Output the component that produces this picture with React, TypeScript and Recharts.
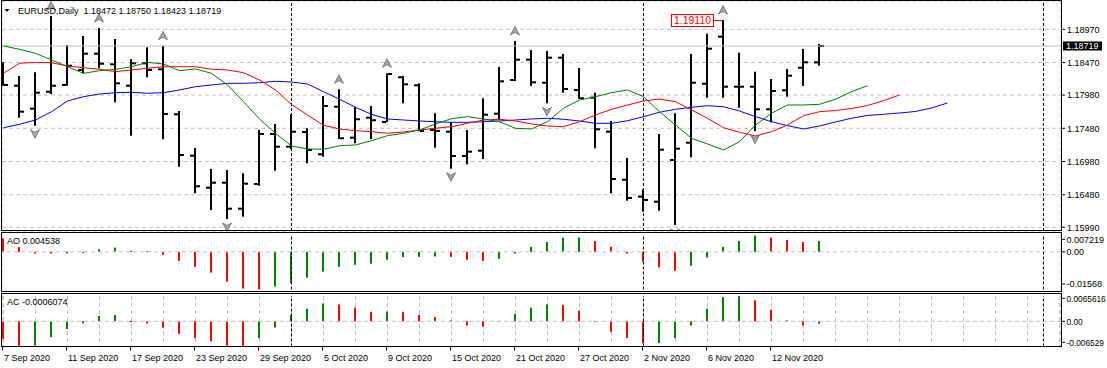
import {
  Bar,
  CartesianGrid,
  ComposedChart,
  Line,
  ReferenceDot,
  ReferenceLine,
  Scatter,
  XAxis,
  YAxis,
} from "recharts";

const FONT = "'Liberation Sans', Arial, sans-serif";
const GRID = "#c0c0c0";
const UP = "#008000";
const DOWN = "#ff0000";

const SYMBOL = "EURUSD,Daily";
const LAST_OHLC = "1.18472 1.18750 1.18423 1.18719";
const LAST_PRICE = 1.18719;
const HIGH_MARK = 1.1911;
const HIGH_MARK_BAR = 45;

const DATE_LABELS = [
  "7 Sep 2020", "11 Sep 2020", "17 Sep 2020", "23 Sep 2020", "29 Sep 2020",
  "5 Oct 2020", "9 Oct 2020", "15 Oct 2020", "21 Oct 2020", "27 Oct 2020",
  "2 Nov 2020", "6 Nov 2020", "12 Nov 2020",
];
const DATE_LABEL_BARS = [0, 4, 8, 12, 16, 20, 24, 28, 32, 36, 40, 44, 48];
const SEPARATORS = [18, 40, 65];
const PRICE_TICKS = [1.1599, 1.1648, 1.1698, 1.1748, 1.1798, 1.1847, 1.1897];
const AO_TICKS = [0.007219, 0, -0.01568];
const AC_TICKS = [0.0065616, 0, -0.006529];

const OPEN = [
  1.18147, 1.18121, 1.17775, 1.18031, 1.18132, 1.18358, 1.18603, 1.18443, 1.18121, 1.18458,
  1.18368, 1.17691, 1.17068, 1.16586, 1.16661, 1.1627, 1.16642, 1.17394, 1.17203, 1.17424,
  1.17089, 1.17805, 1.17339, 1.1764, 1.17575, 1.18248, 1.18127, 1.17455, 1.17429, 1.17063,
  1.17143, 1.177, 1.18207, 1.18513, 1.18166, 1.18543, 1.18057, 1.17941, 1.17429, 1.16706,
  1.16451, 1.16375, 1.17003, 1.17263, 1.18151, 1.18859, 1.18106, 1.18106, 1.17766, 1.18052,
  1.18392, 1.18472,
];
const HIGH = [
  1.18473, 1.18267, 1.18323, 1.1917, 1.18734, 1.18869, 1.1899, 1.18824, 1.18519, 1.18699,
  1.18723, 1.1774, 1.17184, 1.16868, 1.16852, 1.16803, 1.17455, 1.17545, 1.17691, 1.1748,
  1.17966, 1.18067, 1.17805, 1.17816, 1.18308, 1.18267, 1.18157, 1.17706, 1.17575, 1.17455,
  1.17932, 1.18403, 1.18794, 1.18659, 1.18644, 1.18598, 1.18388, 1.18016, 1.1759, 1.17033,
  1.16562, 1.17394, 1.17706, 1.18598, 1.18904, 1.1911, 1.18618, 1.18332, 1.18222, 1.18373,
  1.18674, 1.1875,
];
const LOW = [
  1.18121, 1.1764, 1.17519, 1.17996, 1.18121, 1.18308, 1.18383, 1.17871, 1.17369, 1.18248,
  1.17315, 1.16902, 1.16502, 1.1625, 1.16115, 1.1615, 1.16616, 1.16842, 1.17169, 1.16953,
  1.17053, 1.17319, 1.17254, 1.17319, 1.17575, 1.17856, 1.17435, 1.17188, 1.16872, 1.16938,
  1.17018, 1.17605, 1.18192, 1.18117, 1.17856, 1.18016, 1.17921, 1.17179, 1.16502, 1.1639,
  1.16225, 1.1624, 1.16025, 1.17044, 1.17941, 1.17941, 1.1779, 1.17439, 1.1757, 1.17956,
  1.18117, 1.18423,
];
const CLOSE = [
  1.18132, 1.1773, 1.18016, 1.18121, 1.18422, 1.18603, 1.18452, 1.18157, 1.18458, 1.18358,
  1.17695, 1.17078, 1.16607, 1.16661, 1.1627, 1.16646, 1.17394, 1.17203, 1.17429, 1.17153,
  1.17816, 1.1733, 1.17616, 1.17601, 1.18297, 1.18142, 1.17439, 1.17439, 1.17063, 1.17128,
  1.17685, 1.18187, 1.18513, 1.18172, 1.18543, 1.18072, 1.17932, 1.17465, 1.16717, 1.16431,
  1.16401, 1.17158, 1.17173, 1.18166, 1.18678, 1.18106, 1.18106, 1.17766, 1.18042, 1.18272,
  1.18473, 1.18719,
];

// alligator lines, already shifted forward (lips 3, teeth 5, jaw 8 bars)
const LIPS = [
  1.18719, 1.18669, 1.18609, 1.18508, 1.18407, 1.18308, 1.18347, 1.18368, 1.18407, 1.18473,
  1.18448, 1.18347, 1.18373, 1.18308, 1.18132, 1.1788, 1.1762, 1.17405, 1.17214, 1.17169,
  1.17164, 1.17218, 1.17229, 1.17293, 1.17369, 1.17405, 1.17455, 1.17545, 1.17625, 1.17655,
  1.1762, 1.17579, 1.1748, 1.1747, 1.17579, 1.17781, 1.17906, 1.17956, 1.18016, 1.18057,
  1.17956, 1.1773, 1.1753, 1.1733, 1.17244, 1.17153, 1.17278, 1.1753, 1.17706, 1.17831,
  1.17831, 1.17841, 1.17917, 1.18031, 1.18121,
];
const TEETH = [
  1.18308, 1.18458, 1.18473, 1.18467, 1.18418, 1.18392, 1.18368, 1.18332, 1.18358, 1.18383,
  1.18407, 1.18407, 1.18407, 1.18368, 1.18358, 1.18317, 1.18207, 1.18057, 1.17838, 1.1768,
  1.17525, 1.1747, 1.17444, 1.17429, 1.17405, 1.17424, 1.17455, 1.1748, 1.17504, 1.17555,
  1.17605, 1.17616, 1.1759, 1.17545, 1.17515, 1.17504, 1.17579, 1.1768, 1.17766, 1.17831,
  1.17891, 1.17921, 1.1788, 1.17756, 1.17631, 1.17489, 1.1742, 1.17364, 1.17429, 1.1753,
  1.1767, 1.1773, 1.17748, 1.17778, 1.17823, 1.17895, 1.17981,
];
const JAW = [
  1.17489, 1.1754, 1.17605, 1.1773, 1.17891, 1.17956, 1.17996, 1.18016, 1.18022, 1.18007,
  1.18016, 1.18057, 1.18106, 1.18132, 1.18157, 1.18157, 1.18166, 1.18187, 1.18177, 1.18147,
  1.18031, 1.17917, 1.17796, 1.17691, 1.1762, 1.17605, 1.1759, 1.17579, 1.1757, 1.1757,
  1.17579, 1.1759, 1.17605, 1.1762, 1.17631, 1.17616, 1.1759, 1.17555, 1.17555, 1.17594,
  1.17655, 1.17721, 1.17766, 1.17796, 1.1782, 1.17805, 1.1774, 1.17655, 1.17579, 1.17519,
  1.1747, 1.17515, 1.17575, 1.17631, 1.17673, 1.17691, 1.1771, 1.17733, 1.17786, 1.17861,
];

const AO = [
  0.00558, 0.00194, -0.0007, -0.00074, -0.00062, -0.00029, 0.00112, 0.00178, 0.00041, 0.00029,
  -0.00124, -0.00372, -0.0062, -0.00867, -0.01239, -0.01528, -0.01568, -0.01446, -0.0128, -0.01074,
  -0.00826, -0.0062, -0.00537, -0.00496, -0.0033, -0.00219, -0.00207, -0.00194, -0.00207, -0.0033,
  -0.00372, -0.00289, -0.0007, 0.00207, 0.00413, 0.00591, 0.00599, 0.00454, 0.00207, -0.0007,
  -0.00413, -0.00648, -0.00785, -0.00578, -0.00235, 0.00207, 0.00454, 0.0068, 0.00591, 0.00496,
  0.00413, 0.004538,
];
const AC = [
  -0.00454, -0.006529, -0.00626, -0.00408, -0.00199, -0.00054, 0.00136, 0.00163, 0.00008, -0.00054,
  -0.00163, -0.00326, -0.00435, -0.00517, -0.00626, -0.0065, -0.00435, -0.00163, 0.00163, 0.00326,
  0.00462, 0.00435, 0.00354, 0.00245, 0.00253, 0.00237, 0.00163, 0.00109, 0.00027, -0.00109,
  -0.00136, 0.00008, 0.0019, 0.00354, 0.00435, 0.00427, 0.00272, 0.00008, -0.00272, -0.00435,
  -0.00571, -0.00563, -0.00435, -0.00109, 0.00326, 0.00626, 0.0065616, 0.00544, 0.00299, 0.00027,
  -0.00109, -0.0006074,
];

const FRACTAL_UP = [3, 6, 10, 21, 24, 32, 45];
const FRACTAL_DOWN = [2, 14, 28, 34, 42, 47];

// one bar every 16px, first bar 3px in from the left edge
const X_DOMAIN: [number, number] = [-0.09375, 66.09375];
const GRID_TICKS = Array.from({ length: 34 }, (_, k) => k * 2);

const rows = JAW.map((jaw, i) => ({
  i,
  o: OPEN[i],
  h: HIGH[i],
  l: LOW[i],
  c: CLOSE[i],
  lips: LIPS[i],
  teeth: TEETH[i],
  jaw,
  ao: AO[i],
  ac: AC[i],
  aoColor: i > 0 && AO[i] > AO[i - 1] ? UP : DOWN,
  acColor: i > 0 && AC[i] > AC[i - 1] ? UP : DOWN,
}));

const fracUp = FRACTAL_UP.map((i) => ({ i, v: HIGH[i] }));
const fracDown = FRACTAL_DOWN.map((i) => ({ i, v: LOW[i] }));

function OhlcBar(props: any) {
  const { x, y, width, height, payload } = props;
  if (!payload || payload.h == null) return <g />;
  const cx = Math.floor(x + width / 2);
  const span = payload.h - payload.l;
  const at = (v: number) => (span > 0 ? y + ((payload.h - v) / span) * height : y);
  const yo = at(payload.o);
  const yc = at(payload.c);
  return (
    <g fill="#000">
      <rect x={cx - 1} y={y} width={2} height={Math.max(height, 1)} />
      <rect x={cx - 5} y={yo - 1} width={4} height={2} />
      <rect x={cx + 1} y={yc - 1} width={4} height={2} />
    </g>
  );
}

function Histo(colorKey: string) {
  return (props: any) => {
    const { x, y, width, height, payload } = props;
    if (!payload || height == null || isNaN(height)) return <g />;
    const cx = Math.floor(x + width / 2);
    const top = height < 0 ? y + height : y;
    return (
      <rect
        x={cx - 1}
        y={top}
        width={2}
        height={Math.max(Math.abs(height), 1)}
        fill={payload[colorKey]}
      />
    );
  };
}

function FracUp({ cx, cy }: any) {
  return (
    <polygon
      transform={`translate(${Math.floor(cx)},${cy - 10})`}
      points="0,-4.5 4.5,4 0,1.5 -4.5,4"
      fill="#a4a4a4"
      stroke="#6a6a6a"
      strokeWidth={0.8}
    />
  );
}

function FracDown({ cx, cy }: any) {
  return (
    <polygon
      transform={`translate(${Math.floor(cx)},${cy + 8})`}
      points="0,4.5 4.5,-4 0,-1.5 -4.5,-4"
      fill="#a4a4a4"
      stroke="#6a6a6a"
      strokeWidth={0.8}
    />
  );
}

function HighMark({ cx, cy }: any) {
  const bx = Math.floor(cx) - 52;
  return (
    <g>
      <line x1={bx + 42} x2={Math.floor(cx)} y1={cy + 0.5} y2={cy + 0.5} stroke={DOWN} />
      <rect x={bx + 0.5} y={cy - 5.5} width={42} height={12} fill="#fff" stroke={DOWN} />
      <text x={bx + 21.5} y={cy + 4.3} textAnchor="middle" fontSize={10.5} fontFamily={FONT} fill={DOWN}>
        {HIGH_MARK.toFixed(5)}
      </text>
    </g>
  );
}

function PriceTag(props: any) {
  const vb = props.viewBox;
  if (!vb) return null;
  const x = vb.x + vb.width + 2;
  return (
    <g>
      <rect x={x} y={vb.y - 4.5} width={39} height={9} fill="#000" />
      <text x={x + 3} y={vb.y + 3.3} fill="#fff" fontSize={9} fontFamily={FONT}>
        {LAST_PRICE.toFixed(5)}
      </text>
    </g>
  );
}

function PriceTick({ x, y, payload }: any) {
  return (
    <g>
      <line x1={x + 1} x2={x + 4} y1={y} y2={y} stroke="#000" />
      <text x={x + 6} y={y + 3.3} fontSize={9} fontFamily={FONT} fill="#000">
        {payload.value.toFixed(5)}
      </text>
    </g>
  );
}

function sideTick(text: (v: number) => string, topShift: number, bottomShift: number, size: number) {
  return ({ x, y, payload }: any) => {
    const v = payload.value;
    const yy = v > 0 ? y + topShift : v < 0 ? y + bottomShift : y;
    return (
      <g>
        <line x1={x + 1} x2={x + 4} y1={yy} y2={yy} stroke="#000" />
        <text x={x + 5.5} y={yy + 3.3} fontSize={size} fontFamily={FONT} fill="#000">
          {text(v)}
        </text>
      </g>
    );
  };
}

const AoTick = sideTick((v) => (v === 0 ? "0.00" : String(v)), 4.8, -5.5, 9);
const AcTick = sideTick((v) => (v === 0 ? "0.00" : String(v)), 2.3, -4.2, 8.3);

function DateTick({ x, y, payload }: any) {
  const k = DATE_LABEL_BARS.indexOf(payload.value);
  if (k < 0) return <g />;
  const tx = Math.floor(x) - 0.5;
  return (
    <g>
      <line x1={tx} x2={tx} y1={y} y2={y + 4} stroke="#000" />
      <text x={tx + 1.5} y={y + 14.5} fontSize={9} fontFamily={FONT} fill="#000">
        {DATE_LABELS[k]}
      </text>
    </g>
  );
}

const frame = (top: number, height: number): React.CSSProperties => ({
  position: "absolute",
  left: 1,
  top,
  width: 1061,
  height,
  border: "1px solid #000",
  boxSizing: "border-box",
  pointerEvents: "none",
});

const hiddenX = (
  <XAxis
    type="number"
    dataKey="i"
    domain={X_DOMAIN}
    ticks={GRID_TICKS}
    allowDataOverflow
    height={0}
    tick={false}
    axisLine={false}
    tickLine={false}
  />
);

export default function App() {
  const sepLines = SEPARATORS.map((s) => (
    <ReferenceLine key={s} x={s} stroke="#000" strokeDasharray="3 2" />
  ));
  return (
    <div
      style={{
        position: "absolute",
        left: 0,
        top: 0,
        width: 1107,
        height: 368,
        background: "#fff",
        overflow: "hidden",
        fontFamily: FONT,
      }}
    >
      <div style={{ position: "absolute", left: 0, top: 0 }}>
        <ComposedChart width={1107} height={236} data={rows} margin={{ top: 1, right: 0, bottom: 5, left: 2 }}>
          <CartesianGrid stroke={GRID} strokeDasharray="4 3" />
          {hiddenX}
          <YAxis
            orientation="right"
            width={46}
            domain={[1.15934, 1.19396]}
            ticks={PRICE_TICKS}
            allowDataOverflow
            interval={0}
            axisLine={false}
            tickLine={false}
            tickSize={0}
            tickMargin={0}
            tick={PriceTick}
          />
          {sepLines}
          <ReferenceLine y={LAST_PRICE} stroke={GRID} label={PriceTag} />
          <Line dataKey="jaw" stroke="#0000ff" strokeWidth={1} dot={false} type="linear" isAnimationActive={false} />
          <Line dataKey="teeth" stroke="#ff0000" strokeWidth={1} dot={false} type="linear" isAnimationActive={false} />
          <Line dataKey="lips" stroke="#008000" strokeWidth={1} dot={false} type="linear" isAnimationActive={false} />
          <Bar
            dataKey={(d: any) => (d.h == null ? null : [d.l, d.h])}
            barSize={10}
            shape={OhlcBar}
            isAnimationActive={false}
          />
          <Scatter data={fracUp} dataKey="v" shape={FracUp} isAnimationActive={false} />
          <Scatter data={fracDown} dataKey="v" shape={FracDown} isAnimationActive={false} />
          <ReferenceDot x={HIGH_MARK_BAR} y={HIGH_MARK} r={0} shape={HighMark} />
        </ComposedChart>
      </div>

      <div style={{ position: "absolute", left: 0, top: 232 }}>
        <ComposedChart width={1107} height={59} data={rows} margin={{ top: 2.5, right: 0, bottom: 1.5, left: 2 }}>
          <CartesianGrid stroke={GRID} strokeDasharray="4 3" horizontal={false} />
          {hiddenX}
          <YAxis
            orientation="right"
            width={46}
            domain={[AO_TICKS[2], AO_TICKS[0]]}
            ticks={AO_TICKS}
            allowDataOverflow
            interval={0}
            axisLine={false}
            tickLine={false}
            tickSize={0}
            tickMargin={0}
            tick={AoTick}
          />
          <ReferenceLine y={0} stroke={GRID} strokeDasharray="4 3" />
          {sepLines}
          <Bar dataKey="ao" barSize={2} shape={Histo("aoColor")} isAnimationActive={false} />
        </ComposedChart>
      </div>

      <div style={{ position: "absolute", left: 0, top: 293 }}>
        <ComposedChart width={1107} height={75} data={rows} margin={{ top: 3, right: 0, bottom: 0, left: 2 }}>
          <CartesianGrid stroke={GRID} strokeDasharray="4 3" horizontal={false} />
          <XAxis
            type="number"
            dataKey="i"
            domain={X_DOMAIN}
            ticks={GRID_TICKS}
            allowDataOverflow
            interval={0}
            height={21.5}
            axisLine={false}
            tickLine={false}
            tickSize={0}
            tickMargin={0}
            tick={DateTick}
          />
          <YAxis
            orientation="right"
            width={46}
            domain={[AC_TICKS[2], AC_TICKS[0]]}
            ticks={AC_TICKS}
            allowDataOverflow
            interval={0}
            axisLine={false}
            tickLine={false}
            tickSize={0}
            tickMargin={0}
            tick={AcTick}
          />
          <ReferenceLine y={0} stroke={GRID} strokeDasharray="4 3" />
          {sepLines}
          <Bar dataKey="ac" barSize={2} shape={Histo("acColor")} isAnimationActive={false} />
        </ComposedChart>
      </div>

      <div style={frame(0, 231)} />
      <div style={frame(232, 60)} />
      <div style={frame(293, 54)} />

      <svg style={{ position: "absolute", left: 0, top: 0 }} width={12} height={16}>
        <polygon points="4.5,9 9.5,9 7,12" fill="#000" />
      </svg>
      <div style={{ position: "absolute", left: 18, top: 5, fontSize: 9, lineHeight: "12px", color: "#000", whiteSpace: "pre" }}>
        {`${SYMBOL}  ${LAST_OHLC}`}
      </div>
      <div style={{ position: "absolute", left: 7, top: 235, fontSize: 9, lineHeight: "12px", color: "#000" }}>
        {`AO ${AO[AO.length - 1]}`}
      </div>
      <div style={{ position: "absolute", left: 7, top: 296, fontSize: 9, lineHeight: "12px", color: "#000" }}>
        {`AC ${AC[AC.length - 1]}`}
      </div>
    </div>
  );
}
